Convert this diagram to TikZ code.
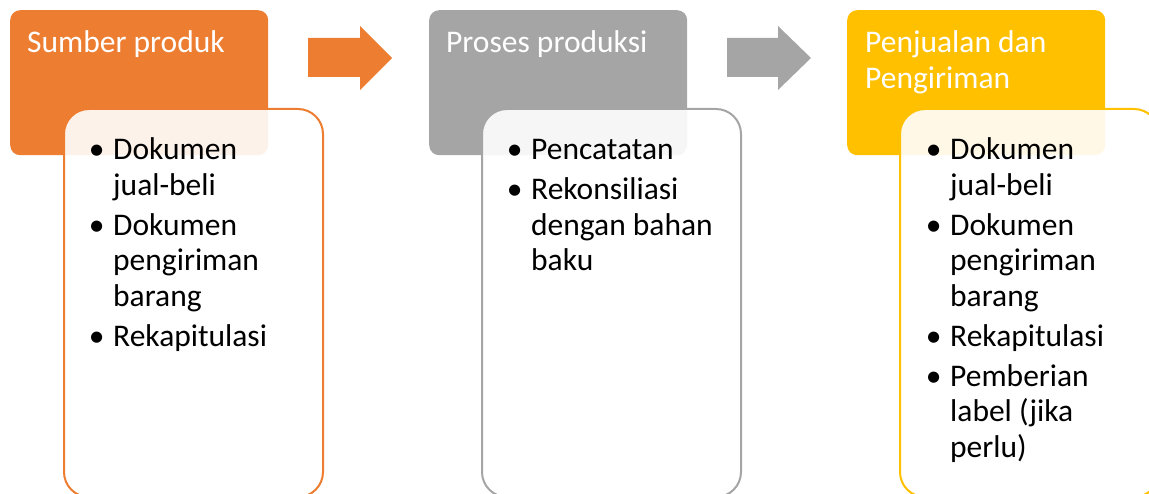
\documentclass[tikz,border=0pt]{standalone}
\usepackage{fontspec}
\setmainfont{Carlito}
\definecolor{accOrange}{HTML}{ED7D31}
\definecolor{accGray}{HTML}{A5A5A5}
\definecolor{accGold}{HTML}{FFC000}
\newcommand{\bul}{\llap{\makebox[33pt][c]{•}}}
\tikzset{
  headbox/.style={fill=#1, draw=none, rounded corners=10pt, inner sep=0pt,
    minimum width=258pt, minimum height=145pt, anchor=north west},
  listbox/.style={draw=#1, line width=2pt, fill=white, fill opacity=0.9,
    rounded corners=25pt, inner sep=0pt,
    minimum width=259pt, minimum height=388pt, anchor=north west},
  headtext/.style={text=white, anchor=base west, inner sep=0pt,
    font=\fontsize{31.5}{35.5}\selectfont},
  listtext/.style={text=black, anchor=base west, inner sep=0pt,
    font=\fontsize{31.5}{35.5}\selectfont},
  flowarrow/.style={fill=#1, draw=none}
}
\begin{document}
\begin{tikzpicture}[x=1pt,y=-1pt]
  \useasboundingbox (0,0) rectangle (1149,494);
  \clip (0,0) rectangle (1149,494);

  % stage headers
  \node[headbox=accOrange] (h1) at (10,10) {};
  \node[headbox=accGray]   (h2) at (429,10) {};
  \node[headbox=accGold]   (h3) at (847,10) {};

  % block arrows between the stages
  \fill[flowarrow=accOrange] (308,38) -- (360,38) -- (360,26) -- (392,58)
    -- (360,90) -- (360,77) -- (308,77) -- cycle;
  \fill[flowarrow=accGray] (727,38) -- (778,38) -- (778,26) -- (811,58)
    -- (778,90) -- (778,77) -- (727,77) -- cycle;

  % detail panels overlapping the headers
  \node[listbox=accOrange] (b1) at (63,108) {};
  \node[listbox=accGray]   (b2) at (481,108) {};
  \node[listbox=accGold]   (b3) at (899,108) {};

  % header titles
  \node[headtext] (t1) at (27,53) {\begin{tabular}[t]{@{}l@{}}Sumber produk\end{tabular}};
  \node[headtext] (t2) at (446,53) {\begin{tabular}[t]{@{}l@{}}Proses produksi\end{tabular}};
  \node[headtext] (t3) at (865,53) {\begin{tabular}[t]{@{}l@{}}Penjualan dan\\Pengiriman\end{tabular}};

  % bullet lists
  \node[listtext] (l1) at (113,160) {\begin{tabular}[t]{@{}l@{}}
    \bul Dokumen\\ jual-beli\\[4.5pt]
    \bul Dokumen\\ pengiriman\\ barang\\[4.5pt]
    \bul Rekapitulasi
  \end{tabular}};
  \node[listtext] (l2) at (531,160) {\begin{tabular}[t]{@{}l@{}}
    \bul Pencatatan\\[4.5pt]
    \bul Rekonsiliasi\\ dengan bahan\\ baku
  \end{tabular}};
  \node[listtext] (l3) at (950,160) {\begin{tabular}[t]{@{}l@{}}
    \bul Dokumen\\ jual-beli\\[4.5pt]
    \bul Dokumen\\ pengiriman\\ barang\\[4.5pt]
    \bul Rekapitulasi\\[4.5pt]
    \bul Pemberian\\ label (jika\\ perlu)
  \end{tabular}};
\end{tikzpicture}
\end{document}
